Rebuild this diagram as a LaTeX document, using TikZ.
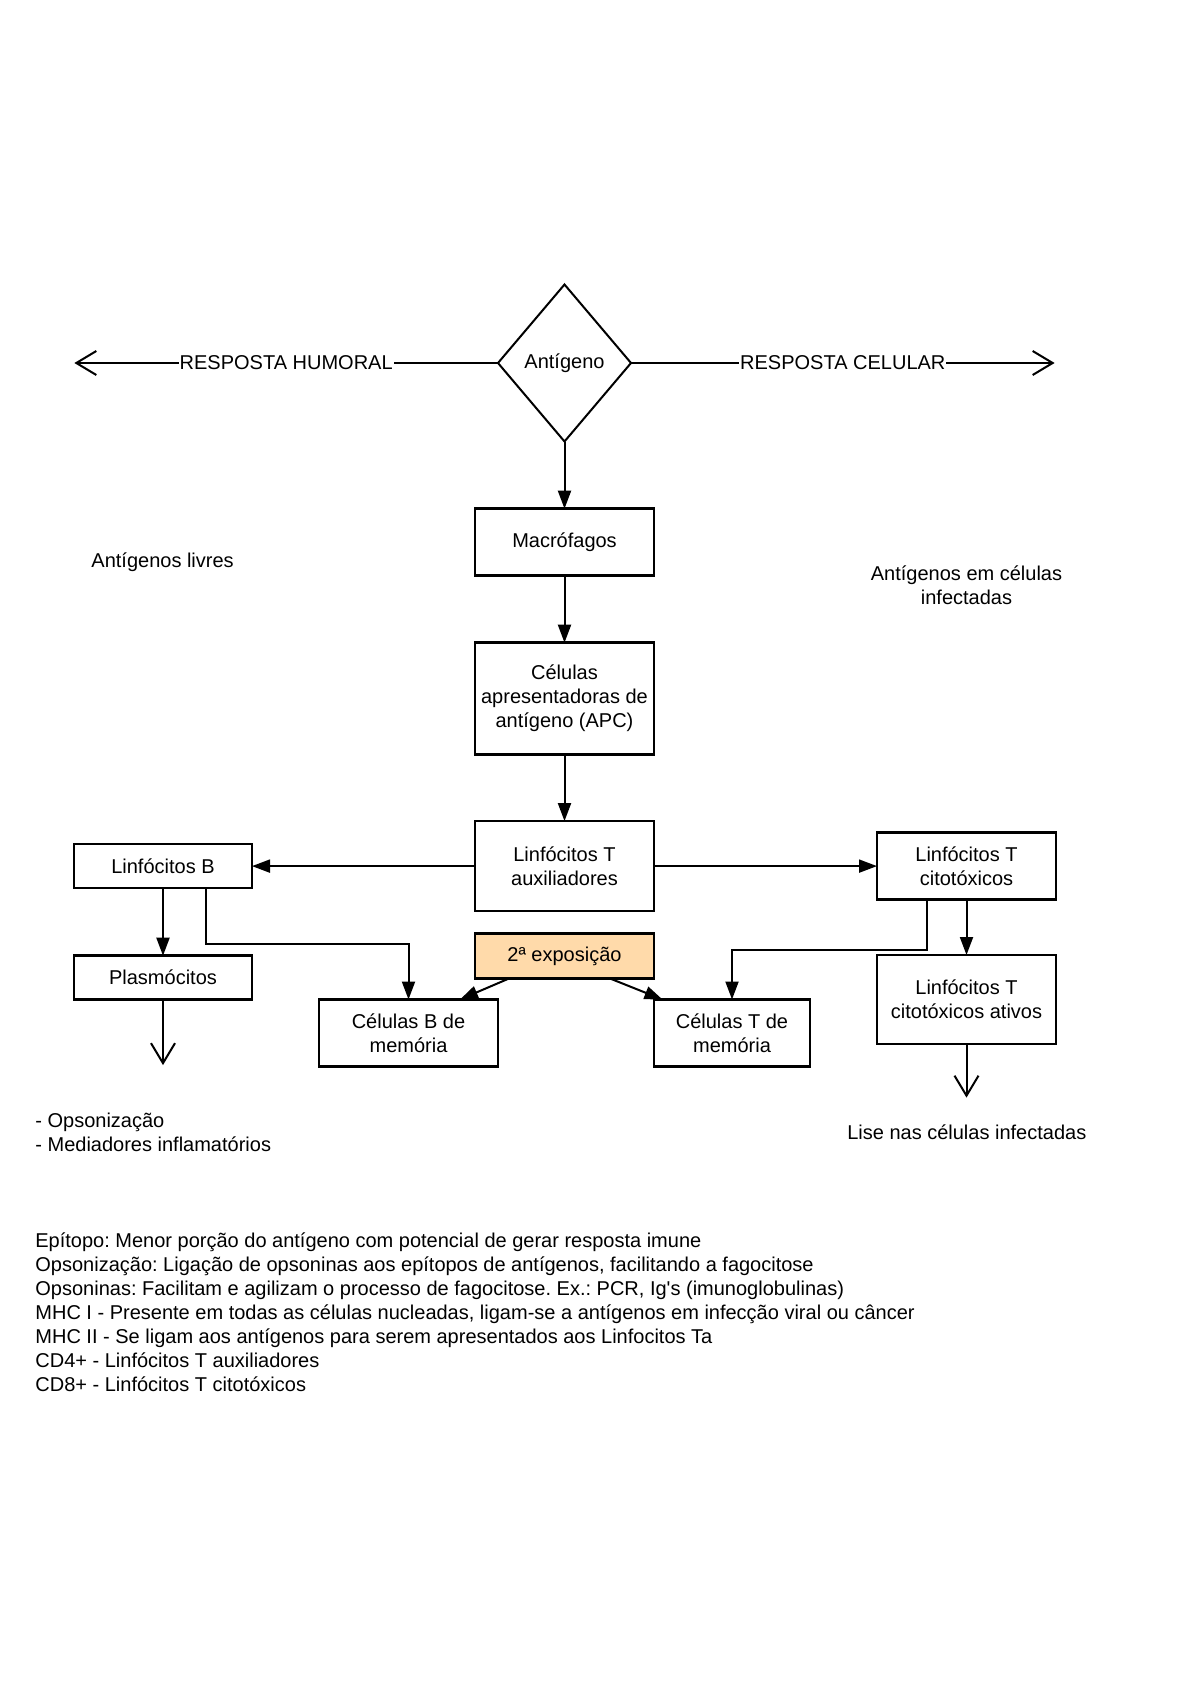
\documentclass[tikz,border=0pt]{standalone}
\usepackage{fontspec}
\setmainfont{Liberation Sans}[Ligatures=TeXOff]
\usetikzlibrary{positioning,shapes.geometric,arrows.meta}
\definecolor{pessego}{RGB}{255,218,170}
\tikzset{
    caixa/.style={draw, line width=1.25pt, minimum width=89.5pt, align=center, inner sep=1pt, outer sep=0pt},
    losango/.style={draw, diamond, line width=1pt, minimum width=66.5pt, minimum height=78.5pt, inner sep=0pt, outer sep=0pt},
    seta/.style={line width=1pt, -{Triangle[length=9pt,width=6.5pt]}},
    aberta/.style={line width=1pt, -{Straight Barb[length=10pt,width=12pt]}},
    rotulo/.style={inner sep=0pt, align=center},
}

\begin{document}
\begin{tikzpicture}[x=0.5pt, y=-0.5pt, font=\fontsize{10}{12}\selectfont\frenchspacing]
    \path[fill=white, use as bounding box] (0,0) rectangle (1194,1690);
    \node[losango] (antigeno) at (564.5,363) {Antígeno};
    \node[caixa, minimum height=33.5pt, below=33.6pt of antigeno] (macrofagos) {Macrófagos};
    \node[caixa, minimum height=55.8pt, below=33.5pt of macrofagos] (apc) {Células\\apresentadoras de\\antígeno (APC)};
    \node[caixa, minimum height=45pt, below=33.4pt of apc] (taux) {Linfócitos T\\auxiliadores};
    \node[caixa, minimum height=22.5pt, fill=pessego, below=11.2pt of taux] (expo) {2ª exposição};
    \node[caixa, minimum width=89pt, minimum height=22pt, left=111.5pt of taux] (linfb) {Linfócitos B};
    \node[caixa, minimum width=89pt, minimum height=22pt, below=33.8pt of linfb] (plasmo) {Plasmócitos};
    \node[caixa, minimum height=33.5pt, right=111.5pt of taux] (citot) {Linfócitos T\\citotóxicos};
    \node[caixa, minimum height=44.5pt, below=27.7pt of citot] (ativos) {Linfócitos T\\citotóxicos ativos};
    \node[caixa, minimum height=33.5pt] (memb) at (408.5,1033) {Células B de\\memória};
    \node[caixa, minimum width=78pt, minimum height=33.5pt] (memt) at (732,1033) {Células T de\\memória};
    \coordinate[left=211.8pt of antigeno] (humoral);
    \coordinate[right=211.8pt of antigeno] (celular);
    \coordinate[below=32.7pt of plasmo] (plasmofim);
    \coordinate[below=26.8pt of ativos] (lisefim);

    \draw[aberta] (antigeno) -- node[fill=white, inner sep=0.5pt] {RESPOSTA HUMORAL} (humoral);
    \draw[aberta] (antigeno) -- node[fill=white, inner sep=0.5pt] {RESPOSTA CELULAR} (celular);
    \draw[seta] (antigeno) -- (macrofagos);
    \draw[seta] (macrofagos) -- (apc);
    \draw[seta] (apc) -- (taux);
    \draw[seta] (taux) -- (linfb);
    \draw[seta] (taux) -- (citot);
    \draw[seta] (linfb) -- (plasmo);
    \draw[seta] ([xshift=21.5pt]linfb.south) -- ++(0pt,-27.8pt) -| (memb.north);
    \draw[seta] ([xshift=-19.75pt]citot.south) -- ++(0pt,-25pt) -| (memt.north);
    \draw[seta] (citot) -- (ativos);
    \draw[seta] ([xshift=-27.75pt]expo.south) -- ([xshift=25.75pt]memb.north);
    \draw[seta] ([xshift=22.75pt]expo.south) -- ([xshift=-34.75pt]memt.north);
    \draw[aberta] (plasmo) -- (plasmofim);
    \draw[aberta] (ativos) -- (lisefim);

    \node[rotulo] (livres) at (162.6,562) {Antígenos livres};
    \node[rotulo] (infectadas) at (966.5,585) {Antígenos em células\\infectadas};
    \node[rotulo, anchor=west, align=left] (efeitos) at (35,1132) {- Opsonização\\- Mediadores inflamatórios};
    \node[rotulo] (lise) at (966.8,1132.3) {Lise nas células infectadas};
    \node[rotulo, anchor=west, align=left] (glossario) at (35,1312) {Epítopo: Menor porção do antígeno com potencial de gerar resposta imune\\
        Opsonização: Ligação de opsoninas aos epítopos de antígenos, facilitando a fagocitose\\
        Opsoninas: Facilitam e agilizam o processo de fagocitose. Ex.: PCR, Ig's (imunoglobulinas)\\
        MHC I - Presente em todas as células nucleadas, ligam-se a antígenos em infecção viral ou câncer\\
        MHC II - Se ligam aos antígenos para serem apresentados aos Linfocitos Ta\\
        CD4+ - Linfócitos T auxiliadores\\
        CD8+ - Linfócitos T citotóxicos};
\end{tikzpicture}
\end{document}
